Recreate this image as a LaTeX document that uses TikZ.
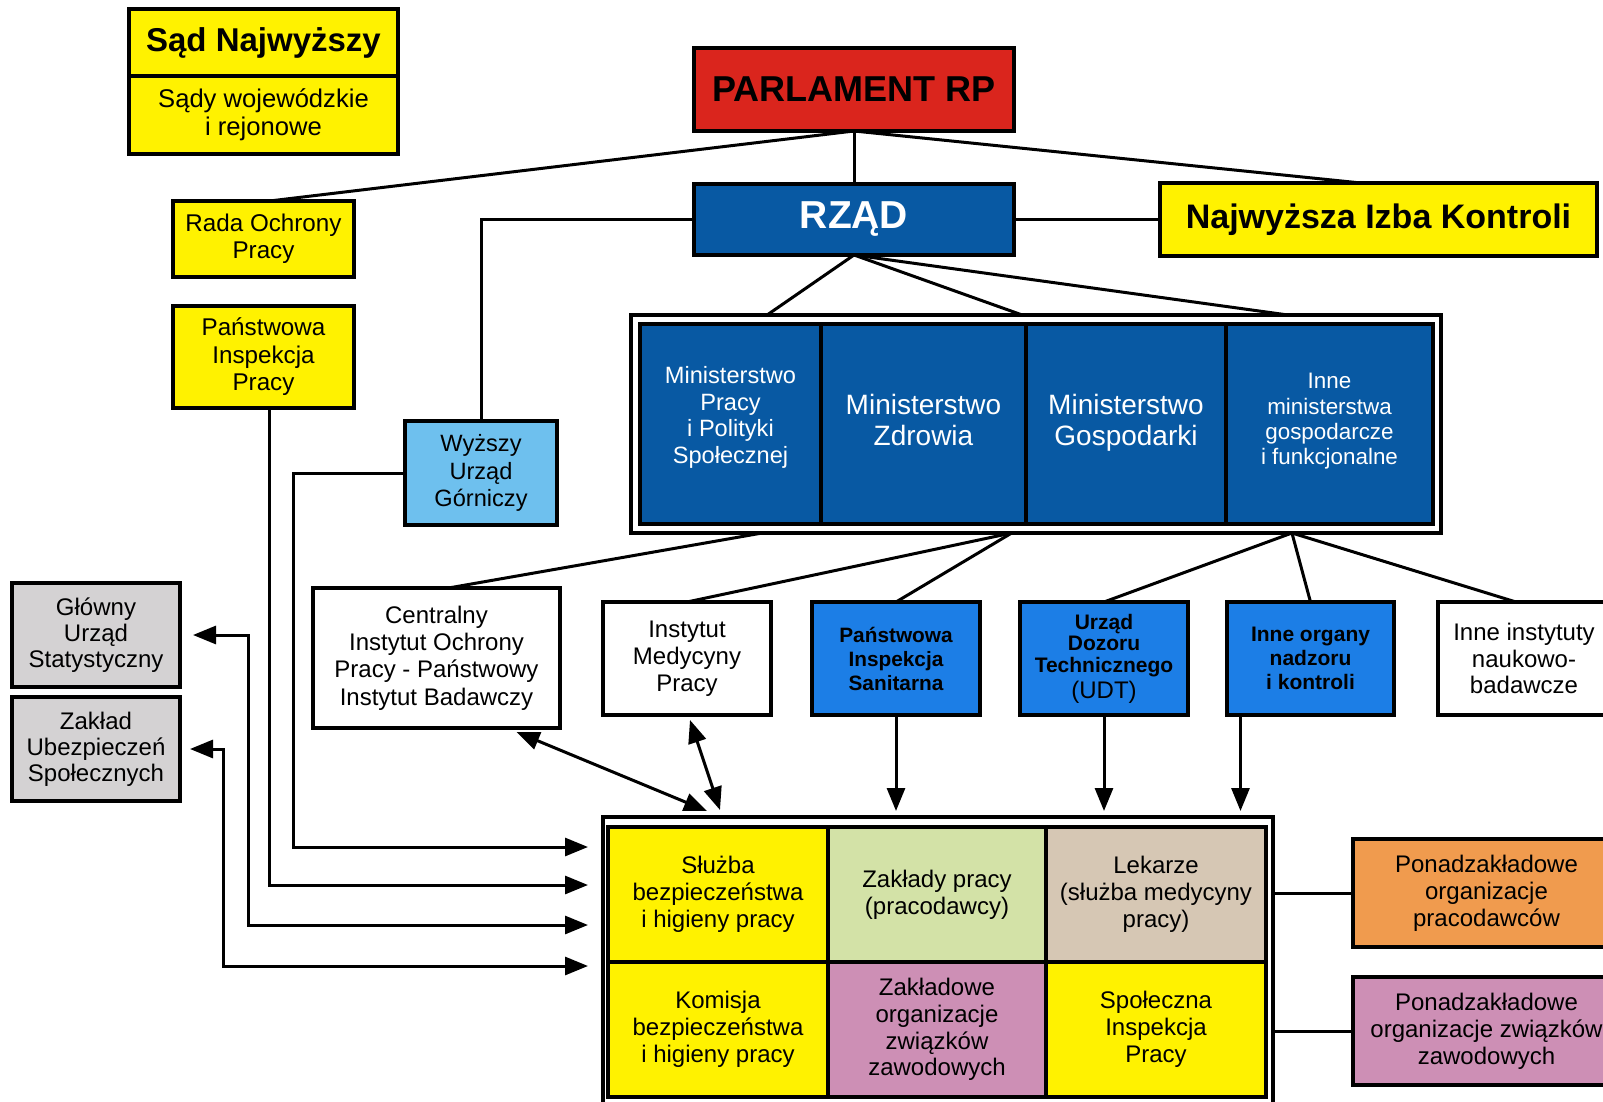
\documentclass[tikz,border=0pt]{standalone}
\usepackage{fontspec}
\setmainfont{Liberation Sans}
\usetikzlibrary{arrows.meta,calc}
\definecolor{yellowA}{RGB}{255,242,0}
\definecolor{redA}{RGB}{218,37,29}
\definecolor{blueA}{RGB}{8,89,163}
\definecolor{blueB}{RGB}{28,126,230}
\definecolor{blueL}{RGB}{110,192,238}
\definecolor{grayA}{RGB}{212,210,211}
\definecolor{greenA}{RGB}{211,226,167}
\definecolor{beigeA}{RGB}{214,199,180}
\definecolor{pinkA}{RGB}{205,143,181}
\definecolor{orangeA}{RGB}{240,155,78}
\newcommand\mybox[7]{\node[box,#6,minimum width={(#4-#2)*0.5pt},minimum height={(#5-#3)*0.5pt}] (#1) at ({(#2+#4)/2},{(#3+#5)/2}) {#7};}
\begin{document}
\begin{tikzpicture}[x=0.5pt,y=-0.5pt,
  box/.style={draw=black,line width=1.8pt,outer sep=0pt,inner sep=0pt,align=center,text=black,font=\fontsize{12}{13.4}\selectfont},
  con/.style={line width=1.5pt,draw=black},
  arr/.style={con,-{Triangle[length=11.5pt,width=9pt]}},
  darr/.style={con,{Triangle[length=11.5pt,width=9pt]}-{Triangle[length=11.5pt,width=9pt]}}]
\useasboundingbox (0,0) rectangle (1603,1102);
\fill[white] (0,0) rectangle (1603,1102);
% top
\mybox{sadn}{129}{9}{398}{76}{fill=yellowA,font=\bfseries\fontsize{16.5}{18}\selectfont}{Sąd Najwyższy}
\mybox{sadw}{129}{76}{398}{154}{fill=yellowA,font=\fontsize{12.8}{13.9}\selectfont}{Sądy wojewódzkie\\i rejonowe}
\mybox{parl}{694}{48}{1014}{131}{fill=redA,font=\bfseries\fontsize{18}{20}\selectfont}{PARLAMENT RP}
\mybox{rzad}{694}{184}{1014}{255}{fill=blueA,text=white,font=\bfseries\fontsize{19.5}{21}\selectfont}{RZĄD}
\mybox{nik}{1160}{183}{1597}{256}{fill=yellowA,font=\bfseries\fontsize{17}{19}\selectfont}{Najwyższa Izba Kontroli}
\mybox{rada}{173}{201}{354}{277}{fill=yellowA,font=\fontsize{12.1}{13.5}\selectfont}{Rada Ochrony\\Pracy}
\mybox{pip}{173}{306}{354}{408}{fill=yellowA,font=\fontsize{12.1}{13.7}\selectfont}{Państwowa\\Inspekcja\\Pracy}
\mybox{wug}{405}{421}{557}{525}{fill=blueL,font=\fontsize{11.8}{13.6}\selectfont}{Wyższy\\Urząd\\Górniczy}
% ministries
\mybox{minframe}{631}{315}{1441}{533}{fill=white}{}
\mybox{m1}{640}{324}{821}{524}{fill=blueA,text=white,font=\fontsize{11.8}{13.3}\selectfont}{Ministerstwo\\Pracy\\i Polityki\\Społecznej\\[-4.3pt]\mbox{}}
\mybox{m2}{821}{324}{1026}{524}{fill=blueA,text=white,font=\fontsize{14}{15.8}\selectfont}{Ministerstwo\\Zdrowia\\[-11.8pt]\mbox{}}
\mybox{m3}{1026}{324}{1226}{524}{fill=blueA,text=white,font=\fontsize{14}{15.8}\selectfont}{Ministerstwo\\Gospodarki\\[-11.8pt]\mbox{}}
\mybox{m4}{1226}{324}{1433}{524}{fill=blueA,text=white,font=\fontsize{11.2}{12.7}\selectfont}{Inne\\ministerstwa\\gospodarcze\\i funkcjonalne\\[-7.7pt]\mbox{}}
% second row
\mybox{ciop}{313}{588}{560}{728}{fill=white,font=\fontsize{12}{13.6}\selectfont}{Centralny\\Instytut Ochrony\\Pracy - Państwowy\\Instytut Badawczy}
\mybox{imp}{603}{602}{771}{715}{fill=white}{Instytut\\Medycyny\\Pracy}
\mybox{pis}{812}{602}{980}{715}{fill=blueB,font=\bfseries\fontsize{10.4}{12}\selectfont}{Państwowa\\Inspekcja\\Sanitarna}
\mybox{udt}{1020}{602}{1188}{715}{fill=blueB,font=\bfseries\fontsize{10.5}{10.8}\selectfont}{Urząd\\Dozoru\\Technicznego\\[1pt]{\mdseries\fontsize{12}{13}\selectfont (UDT)}}
\mybox{inneorg}{1227}{602}{1394}{715}{fill=blueB,font=\bfseries\fontsize{10.5}{12}\selectfont}{Inne organy\\nadzoru\\i kontroli}
\mybox{inneinst}{1438}{602}{1610}{715}{fill=white}{Inne instytuty\\naukowo-\\badawcze}
\mybox{gus}{12}{583}{180}{687}{fill=grayA,font=\fontsize{12}{13}\selectfont}{Główny\\Urząd\\Statystyczny}
\mybox{zus}{12}{697}{180}{801}{fill=grayA,font=\fontsize{12}{13}\selectfont}{Zakład\\Ubezpieczeń\\Społecznych}
% bottom block
\mybox{bigframe}{603}{817}{1273}{1106}{fill=white}{}
\mybox{c11}{608}{827}{828}{962}{fill=yellowA}{Służba\\bezpieczeństwa\\i higieny pracy}
\mybox{c12}{828}{827}{1046}{962}{fill=greenA}{Zakłady pracy\\(pracodawcy)}
\mybox{c13}{1046}{827}{1266}{962}{fill=beigeA}{Lekarze\\(służba medycyny\\pracy)}
\mybox{c21}{608}{962}{828}{1097}{fill=yellowA}{Komisja\\bezpieczeństwa\\i higieny pracy}
\mybox{c22}{828}{962}{1046}{1097}{fill=pinkA}{Zakładowe\\organizacje\\związków\\zawodowych}
\mybox{c23}{1046}{962}{1266}{1097}{fill=yellowA}{Społeczna\\Inspekcja\\Pracy}
\mybox{ponp}{1353}{839}{1620}{947}{fill=orangeA}{Ponadzakładowe\\organizacje\\pracodawców}
\mybox{ponz}{1353}{977}{1620}{1085}{fill=pinkA}{Ponadzakładowe\\organizacje związków\\zawodowych}
% free ends
\coordinate (in1) at (588,847);
\coordinate (in2) at (588,885);
\coordinate (in3) at (588,925);
\coordinate (in4) at (588,966);
\coordinate (t5) at (707,811);
\coordinate (t6) at (720,810);
% connectors top
\draw[con] (parl.south) -- ([xshift=3pt]rada.north);
\draw[con] (parl.south) -- (rzad.north);
\draw[con] (parl.south) -- ($(nik.north west)!0.46!(nik.north east)$);
\draw[con] (rzad.west) -| (wug.north);
\draw[con] (rzad.east) -- (nik.west);
\draw[con] (rzad.south) -- ($(minframe.north west)!0.168!(minframe.north east)$);
\draw[con] (rzad.south) -- ($(minframe.north west)!0.483!(minframe.north east)$);
\draw[con] (rzad.south) -- ($(minframe.north west)!0.811!(minframe.north east)$);
% ministries to agencies
\draw[con] ($(minframe.south west)!0.162!(minframe.south east)$) -- ([xshift=6pt]ciop.north);
\draw[con] ($(minframe.south west)!0.470!(minframe.south east)$) -- (imp.north);
\draw[con] ($(minframe.south west)!0.470!(minframe.south east)$) -- (pis.north);
\draw[con] ($(minframe.south west)!0.816!(minframe.south east)$) -- (udt.north);
\draw[con] ($(minframe.south west)!0.816!(minframe.south east)$) -- (inneorg.north);
\draw[con] ($(minframe.south west)!0.816!(minframe.south east)$) -- ([xshift=-4pt]inneinst.north);
% left routes
\draw[arr] (wug.west) -- ++(-112,0) |- (in1);
\draw[arr] ([xshift=3pt]pip.south) |- (in2);
\draw[darr] ([xshift=6.5pt]gus.east) -- ++(55,0) |- (in3);
\draw[darr] ([xshift=5pt]zus.east) -- ++(33,0) |- (in4);
% institutes
\draw[darr] ([xshift=40pt,yshift=-2pt]ciop.south) -- (t5);
\draw[darr] ([xshift=1.5pt,yshift=-2.5pt]imp.south) -- (t6);
\draw[arr] (pis.south) -- ++(0,96);
\draw[arr] (udt.south) -- ++(0,96);
\draw[arr] ([xshift=-35pt]inneorg.south) -- ++(0,96);
% right
\draw[con] (bigframe.east |- ponp.west) -- (ponp.west);
\draw[con] (bigframe.east |- ponz.west) -- (ponz.west);
\end{tikzpicture}
\end{document}
